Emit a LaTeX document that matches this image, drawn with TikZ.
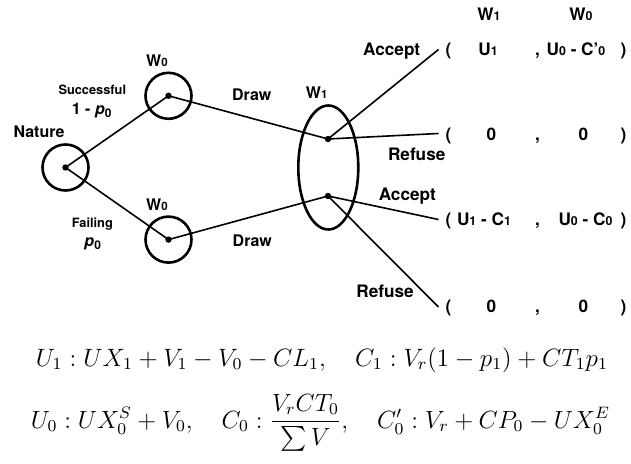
\documentclass[tikz,border=0pt]{standalone}
\usepackage{fontspec}
\setmainfont{TeX Gyre Heros}
\usepackage{amsmath}
\usepackage{graphicx}
\usetikzlibrary{shapes.geometric}
% small digit sitting on the baseline, as in W0, U1
\newcommand\sdig[1]{\scalebox{0.72}{#1}}
% bold italic p with a lowered subscript
\newcommand\pvar[1]{\textit{p}\raisebox{-0.35ex}{\scalebox{0.75}{#1}}}

\begin{document}
\begin{tikzpicture}[x=0.5pt,y=-0.5pt,
  lbl/.style={font=\bfseries\fontsize{8}{9}\selectfont, inner sep=0pt},
  tiny/.style={font=\bfseries\fontsize{6.4}{7}\selectfont, inner sep=0pt},
  pay/.style={font=\bfseries\fontsize{8.6}{10}\selectfont, inner sep=0pt, anchor=base},
  ring/.style={circle, draw, line width=1.3pt, minimum size=23pt, inner sep=0pt},
  oval/.style={ellipse, draw, line width=1.3pt, minimum width=30pt, minimum height=62pt, inner sep=0pt},
  branch/.style={line width=0.8pt},
  dotnode/.style={circle, fill, inner sep=0pt, minimum size=3.2pt},
  eq/.style={font=\fontsize{12}{14}\selectfont, inner sep=0pt, anchor=base},
]
\useasboundingbox (0,0) rectangle (631,464);

% information sets
\node[ring] (nature) at (65.5,167.5) {};
\node[ring] (wa) at (168.5,95.8) {};
\node[ring] (wb) at (168.5,239.6) {};
\node[oval] (w1) at (328.3,167.5) {};

% decision points
\node[dotnode] (n0) at (65.5,167.5) {};
\node[dotnode] (a) at (168.5,95.8) {};
\node[dotnode] (b) at (168.5,239.6) {};
\node[dotnode] (c) at (328,139) {};
\node[dotnode] (d) at (328,196) {};

% leaf ends
\coordinate (e1) at (438.5,49.5);
\coordinate (e2) at (438.5,133.5);
\coordinate (e3) at (438.5,219.5);
\coordinate (e4) at (438.5,307);

% branches
\draw[branch] (n0.center) -- (a.center);
\draw[branch] (n0.center) -- (b.center);
\draw[branch] (a.center) -- (c.center);
\draw[branch] (b.center) -- (d.center);
\draw[branch] (c.center) -- (e1);
\draw[branch] (c.center) -- (e2);
\draw[branch] (d.center) -- (e3);
\draw[branch] (d.center) -- (e4);

% labels on the tree
\node[lbl] (tnature) at (39,131.7) {Nature};
\node[tiny] (tsucc) at (92.3,90) {Successful};
\node[lbl] (tsuccp) at (91.7,110.5) {1 - \pvar{0}};
\node[tiny] (tfail) at (92.3,224.3) {Failing};
\node[lbl] (tfailp) at (92.7,244) {\pvar{0}};
\node[lbl] (twa) at (157,61) {W\sdig{0}};
\node[lbl] (twb) at (157,204.5) {W\sdig{0}};
\node[lbl] (tdraw1) at (251.7,95) {Draw};
\node[lbl] (tdraw2) at (252.3,241) {Draw};
\node[lbl] (tw1) at (316.7,92.3) {W\sdig{1}};
\node[pay] (tacc1) at (391.7,56) {Accept};
\node[pay] (tref1) at (416.7,161) {Refuse};
\node[pay] (tacc2) at (407.3,200.5) {Accept};
\node[pay] (tref2) at (385,298) {Refuse};

% payoff table
\node[pay] (hw1) at (489,21) {W\sdig{1}};
\node[pay] (hw0) at (581,21) {W\sdig{0}};

\node[pay] (o1) at (448.5,56) {(};
\node[pay] (u1) at (488,56) {U\sdig{1}};
\node[pay] (k1) at (537.5,56) {,};
\node[pay] (v1) at (576,56) {U\sdig{0} - C'\sdig{0}};
\node[pay] (c1) at (623.5,56) {)};

\node[pay] (o2) at (448.5,141) {(};
\node[pay] (u2) at (491.5,141) {0};
\node[pay] (k2) at (537.5,141) {,};
\node[pay] (v2) at (583.5,141) {0};
\node[pay] (c2) at (623.5,141) {)};

\node[pay] (o3) at (448.5,226) {(};
\node[pay] (u3) at (484,226) {U\sdig{1} - C\sdig{1}};
\node[pay] (k3) at (537.5,226) {,};
\node[pay] (v3) at (585.5,226) {U\sdig{0} - C\sdig{0}};
\node[pay] (c3) at (623.5,226) {)};

\node[pay] (o4) at (448.5,313) {(};
\node[pay] (u4) at (491.5,313) {0};
\node[pay] (k4) at (537.5,313) {,};
\node[pay] (v4) at (583.5,313) {0};
\node[pay] (c4) at (623.5,313) {)};

% definitions, each set to a fixed line width
\node[eq] (def1) at (322,366) {\resizebox{286pt}{!}{$U_1 : UX_1 + V_1 - V_0 - CL_1, \quad C_1 : V_r(1-p_1) + CT_1p_1$}};
\node[eq] (def2) at (320.5,428) {\resizebox{289.5pt}{!}{$U_0 : UX_0^S + V_0, \quad C_0 : \dfrac{V_rCT_0}{\sum V}, \quad C'_0 : V_r + CP_0 - UX_0^E$}};
\end{tikzpicture}
\end{document}
